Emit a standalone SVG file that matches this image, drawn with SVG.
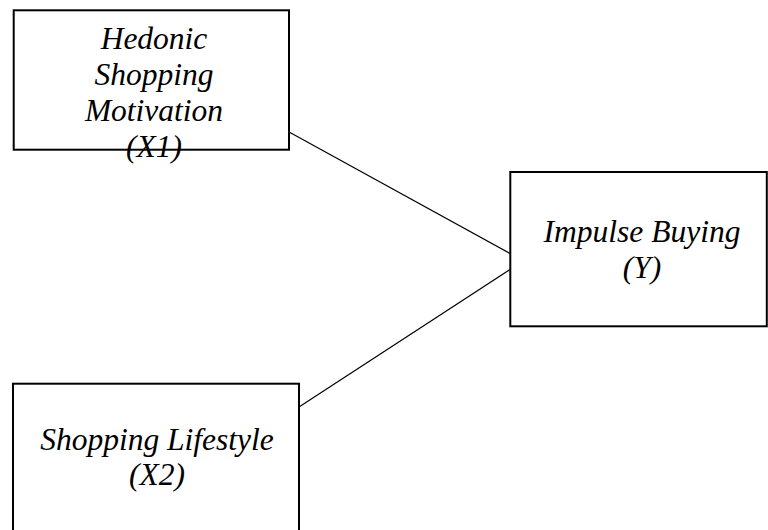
<svg xmlns="http://www.w3.org/2000/svg" width="768" height="530" viewBox="0 0 768 530">
<style>
.box{fill:#fff;stroke:#000;stroke-width:2}
.conn{stroke:#000;stroke-width:1.2;fill:none}
</style>
<rect width="768" height="530" fill="#fff"/>
<g id="connectors">
<line class="conn" x1="290" y1="132.5" x2="510" y2="253.5"/>
<line class="conn" x1="299" y1="407" x2="510" y2="269.5"/>
</g>
<g font-family="Liberation Serif, Times New Roman, serif" font-style="italic" font-size="31.5" text-anchor="middle" fill="#000">
<g id="node-x1">
<rect class="box" x="13.7" y="10.3" width="275.3" height="139.4"/>
<text x="154" y="48.5">Hedonic</text>
<text x="154" y="84.5">Shopping</text>
<text x="154" y="120.5">Motivation</text>
<text x="154" y="156.5">(X1)</text>
</g>
<g id="node-y">
<rect class="box" x="510.3" y="172" width="256.5" height="154.3"/>
<text x="642" y="241.7">Impulse Buying</text>
<text x="642" y="277.7">(Y)</text>
</g>
<g id="node-x2">
<rect class="box" x="13" y="383.7" width="286" height="160"/>
<text x="157" y="450">Shopping Lifestyle</text>
<text x="157" y="485">(X2)</text>
</g>
</g>
</svg>
